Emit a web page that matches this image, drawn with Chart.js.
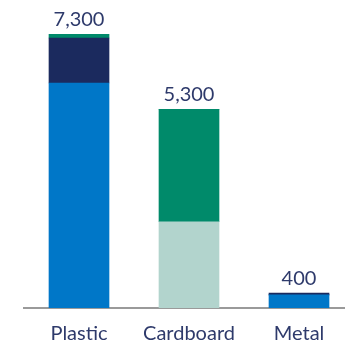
<!DOCTYPE html>
<html>
<head>
<meta charset="utf-8">
<script src="https://cdn.jsdelivr.net/npm/chart.js@4"></script>
<style>
  html, body { margin: 0; padding: 0; background: #fff; overflow: hidden; }
  #wrap { width: 345px; height: 341px; overflow: hidden; }
</style>
</head>
<body>
<div id="wrap"><canvas id="WasteChart" width="355" height="341"></canvas></div>
<script>
// categories and stacked parts (tonnes)
var categories = ['Plastic', 'Cardboard', 'Metal'];
var lowerPart = [6000, 2300, 350];
var middlePart = [1200, 3000, 0];
var topPart = [100, 0, 50];
var totals = [7300, 5300, 400];

// colours per bar for each part
var lowerColors = ['#0077c8', '#b2d4cd', '#0077c8'];
var middleColors = ['#1b2a5e', '#008a6a', '#1b2a5e'];
var topColors = ['#008a6a', '#008a6a', '#1b2a5e'];

var textColor = '#2e3a6b';

// plugin ghi tổng lên đầu mỗi cột
var totalLabels = {
  id: 'totalLabels',
  afterDatasetsDraw: function(chart) {
    var ctx = chart.ctx;
    var meta = chart.getDatasetMeta(0);
    var y = chart.scales.y;
    ctx.save();
    ctx.font = '20px Lato';
    ctx.fillStyle = textColor;
    ctx.textAlign = 'center';
    ctx.textBaseline = 'alphabetic';
    totals.forEach(function(t, i) {
      var x = meta.data[i].x;
      ctx.fillText(t.toLocaleString('en-US'), x, y.getPixelForValue(t) - 8);
    });
    ctx.restore();
  }
};

var ctx = document.getElementById('WasteChart').getContext('2d');
var myChart = new Chart(ctx, {
  type: 'bar',
  data: {
    labels: categories,
    datasets: [
      { data: lowerPart, backgroundColor: lowerColors, barThickness: 60 },
      { data: middlePart, backgroundColor: middleColors, barThickness: 60 },
      { data: topPart, backgroundColor: topColors, barThickness: 60 }
    ]
  },
  options: {
    responsive: false,
    animation: false,
    layout: { padding: { left: 24, right: 1, top: 8, bottom: 0 } },
    plugins: {
      legend: { display: false },
      tooltip: { enabled: false }
    },
    scales: {
      x: {
        stacked: true,
        grid: { display: false },
        border: { display: true, color: '#9a9a9a', width: 2 },
        ticks: { color: textColor, font: { family: 'Lato', size: 20 }, padding: 6 },
        afterFit: function(s) { s.height = 33; }
      },
      y: {
        stacked: true,
        display: false,
        min: 0,
        max: 8000
      }
    }
  },
  plugins: [totalLabels]
});
</script>
</body>
</html>
